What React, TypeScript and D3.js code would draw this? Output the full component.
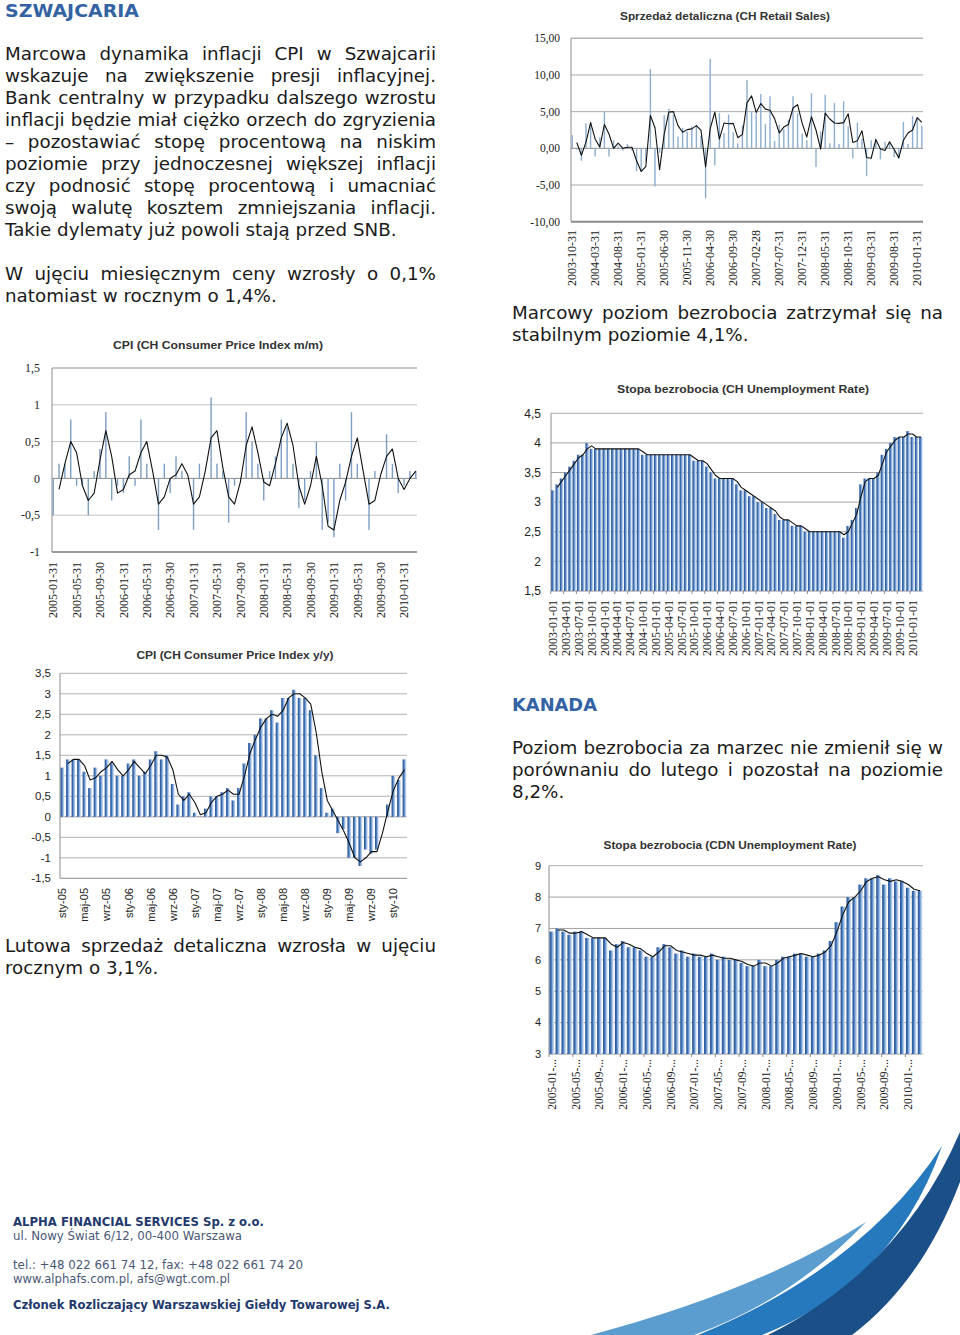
import React from 'react';
import * as d3 from 'd3';

// ---------------- DATA ----------------
// CPI m/m (CH), 2005-01 .. 2010-03
const mmValues = [
  -0.5, 0.2, 0.2, 0.8, -0.1, -0.1, -0.5, 0.1, 0.4, 0.9, -0.3, -0.1,
  -0.2, 0.3, -0.1, 0.8, 0.2, 0.0, -0.7, 0.2, -0.2, 0.3, 0.1, 0.0,
  -0.7, 0.2, 0.0, 1.1, 0.2, 0.1, -0.6, -0.1, 0.0, 0.9, 0.5, 0.2,
  -0.3, 0.1, 0.3, 0.8, 0.7, 0.2, -0.4, -0.3, 0.1, 0.5, -0.7, -0.6,
  -0.8, 0.2, -0.3, 0.9, 0.2, 0.0, -0.7, 0.1, 0.0, 0.6, 0.2, -0.2,
  -0.1, 0.1, 0.1,
];
const mmTickLabels = [
  '2005-01-31', '2005-05-31', '2005-09-30', '2006-01-31', '2006-05-31', '2006-09-30',
  '2007-01-31', '2007-05-31', '2007-09-30', '2008-01-31', '2008-05-31', '2008-09-30',
  '2009-01-31', '2009-05-31', '2009-09-30', '2010-01-31',
];
const mmYTicks = [1.5, 1, 0.5, 0, -0.5, -1];

// CPI y/y (CH), 2005-01 .. 2010-03
const yyValues = [
  1.2, 1.4, 1.4, 1.4, 1.1, 0.7, 1.2, 1.0, 1.4, 1.3, 1.0, 1.0,
  1.3, 1.4, 1.0, 1.1, 1.4, 1.6, 1.4, 1.5, 0.8, 0.3, 0.5, 0.6,
  0.1, 0.0, 0.2, 0.5, 0.5, 0.6, 0.7, 0.4, 0.7, 1.3, 1.8, 2.0,
  2.4, 2.4, 2.6, 2.3, 2.9, 2.9, 3.1, 2.9, 2.9, 2.6, 1.5, 0.7,
  0.1, 0.2, -0.4, -0.3, -1.0, -1.0, -1.2, -0.8, -0.9, -0.8, 0.0, 0.3,
  1.0, 0.9, 1.4,
];
const yyTickLabels = [
  'sty-05', 'maj-05', 'wrz-05', 'sty-06', 'maj-06', 'wrz-06', 'sty-07', 'maj-07',
  'wrz-07', 'sty-08', 'maj-08', 'wrz-08', 'sty-09', 'maj-09', 'wrz-09', 'sty-10',
];
const yyYTicks = [3.5, 3, 2.5, 2, 1.5, 1, 0.5, 0, -0.5, -1, -1.5];

// Retail sales (CH), 2003-10 .. 2010-02
const retailValues = [
  1.8, -0.2, -1.7, 3.4, 3.6, -1.1, 1.5, 5.0, -1.1, 1.1, 0.3, -0.3,
  0.6, -0.3, -3.1, -3.2, -1.8, 10.8, -5.2, -0.6, 4.5, 5.4, 4.6, 1.6,
  2.8, 2.3, 3.0, 3.2, 1.7, -6.8, 12.2, -2.3, 4.8, 2.1, 4.6, 2.2,
  0.7, 3.1, 9.3, 5.0, 4.8, 7.4, 3.3, 7.1, 1.0, 3.2, 2.6, 3.9,
  7.1, 4.8, 2.0, 1.1, 7.5, -2.5, 2.3, 7.3, 0.7, 6.2, 0.6, 6.4,
  3.0, -1.4, 3.5, 1.3, -3.8, 1.1, 1.3, -1.5, 0.9, 0.9, -1.2, -1.4,
  3.6, 0.6, 4.4, 4.0, 3.1,
];
const retailTickLabels = [
  '2003-10-31', '2004-03-31', '2004-08-31', '2005-01-31', '2005-06-30', '2005-11-30',
  '2006-04-30', '2006-09-30', '2007-02-28', '2007-07-31', '2007-12-31', '2008-05-31',
  '2008-10-31', '2009-03-31', '2009-08-31', '2010-01-31',
];
const retailYTicks = [15, 10, 5, 0, -5, -10];

// Unemployment rate (CH), 2003-01 .. 2010-03
const chUnempValues = [
  3.2, 3.3, 3.4, 3.5, 3.6, 3.7, 3.8, 3.8, 4.0, 3.9, 3.9, 3.9,
  3.9, 3.9, 3.9, 3.9, 3.9, 3.9, 3.9, 3.9, 3.9, 3.8, 3.8, 3.8,
  3.8, 3.8, 3.8, 3.8, 3.8, 3.8, 3.8, 3.8, 3.8, 3.7, 3.7, 3.7,
  3.6, 3.5, 3.4, 3.4, 3.4, 3.4, 3.4, 3.3, 3.2, 3.2, 3.1, 3.1,
  3.0, 3.0, 2.9, 2.9, 2.8, 2.7, 2.7, 2.7, 2.6, 2.6, 2.6, 2.5,
  2.5, 2.5, 2.5, 2.5, 2.5, 2.5, 2.5, 2.5, 2.4, 2.6, 2.7, 2.9,
  3.3, 3.4, 3.4, 3.4, 3.5, 3.8, 3.9, 4.0, 4.1, 4.1, 4.1, 4.2,
  4.1, 4.1, 4.1,
];
const chUnempTickLabels = [
  '2003-01-01', '2003-04-01', '2003-07-01', '2003-10-01', '2004-01-01', '2004-04-01',
  '2004-07-01', '2004-10-01', '2005-01-01', '2005-04-01', '2005-07-01', '2005-10-01',
  '2006-01-01', '2006-04-01', '2006-07-01', '2006-10-01', '2007-01-01', '2007-04-01',
  '2007-07-01', '2007-10-01', '2008-01-01', '2008-04-01', '2008-07-01', '2008-10-01',
  '2009-01-01', '2009-04-01', '2009-07-01', '2009-10-01', '2010-01-01',
];
const chUnempYTicks = [4.5, 4, 3.5, 3, 2.5, 2, 1.5];

// Unemployment rate (CDN), 2005-01 .. 2010-03
const cdnUnempValues = [
  6.9, 7.0, 6.9, 6.8, 6.9, 6.9, 6.7, 6.7, 6.7, 6.7, 6.3, 6.5,
  6.6, 6.4, 6.4, 6.3, 6.1, 6.1, 6.4, 6.5, 6.4, 6.2, 6.3, 6.1,
  6.2, 6.1, 6.1, 6.2, 6.0, 6.1, 6.0, 6.0, 5.9, 5.8, 5.8, 6.0,
  5.8, 5.8, 6.0, 6.1, 6.1, 6.2, 6.2, 6.1, 6.1, 6.2, 6.3, 6.6,
  7.2, 7.7, 8.0, 8.0, 8.4, 8.6, 8.6, 8.7, 8.4, 8.6, 8.5, 8.5,
  8.3, 8.2, 8.2,
];
const cdnUnempTickLabels = [
  '2005-01-...', '2005-05-...', '2005-09-...', '2006-01-...', '2006-05-...', '2006-09-...',
  '2007-01-...', '2007-05-...', '2007-09-...', '2008-01-...', '2008-05-...', '2008-09-...',
  '2009-01-...', '2009-05-...', '2009-09-...', '2010-01-...',
];
const cdnUnempYTicks = [9, 8, 7, 6, 5, 4, 3];

// Text content
const introLines = [
  'Marcowa dynamika inflacji CPI w Szwajcarii',
  'wskazuje na zwiększenie presji inflacyjnej.',
  'Bank centralny w przypadku dalszego wzrostu',
  'inflacji będzie miał ciężko orzech do zgryzienia',
  '– pozostawiać stopę procentową na niskim',
  'poziomie przy jednoczesnej większej inflacji',
  'czy podnosić stopę procentową i umacniać',
  'swoją walutę kosztem zmniejszania inflacji.',
  'Takie dylematy już powoli stają przed SNB.',
];
const cpiLines = ['W ujęciu miesięcznym ceny wzrosły o 0,1%', 'natomiast w rocznym o 1,4%.'];
const chUnempLines = ['Marcowy poziom bezrobocia zatrzymał się na', 'stabilnym poziomie 4,1%.'];
const cdnLines = [
  'Poziom bezrobocia za marzec nie zmienił się w',
  'porównaniu do lutego i pozostał na poziomie',
  '8,2%.',
];
const retailLines = ['Lutowa sprzedaż detaliczna wzrosła w ujęciu', 'rocznym o 3,1%.'];
const footerLines = [
  { text: 'ALPHA FINANCIAL SERVICES Sp. z o.o.', bold: true },
  { text: 'ul. Nowy Świat 6/12, 00-400 Warszawa', bold: false },
  { text: 'tel.: +48 022 661 74 12, fax: +48 022 661 74 20', bold: false },
  { text: 'www.alphafs.com.pl, afs@wgt.com.pl', bold: false },
  { text: 'Członek Rozliczający Warszawskiej Giełdy Towarowej S.A.', bold: true },
];

// ---------------- HELPERS ----------------
const plLocale = d3.formatLocale({
  decimal: ',', thousands: '\u00a0', grouping: [3], currency: ['', ''], minus: '-',
});
const fmtShort = plLocale.format('~g');
const fmtTwo = plLocale.format('.2f');

// Excel-style moving-average trendline (period 2) of a series
function movingAverage(vals: number[], period: number): (number | null)[] {
  return vals.map((_, i) => (i < period - 1 ? null : (d3.mean(vals.slice(i - period + 1, i + 1)) as number)));
}

let measureCtx: CanvasRenderingContext2D | null = null;
function textWidth(s: string, font: string): number {
  if (!measureCtx) measureCtx = document.createElement('canvas').getContext('2d');
  if (!measureCtx) return s.length * 9;
  measureCtx.font = font;
  return measureCtx.measureText(s).width;
}

const BODY_FAMILY = "'DejaVu Sans', Verdana, sans-serif";
const BODY_SIZE = 18.3;
const BODY_COLOR = '#1a1a1a';

function TextBlock({ lines, x, y0, width, lineH, justifyCount }: {
  lines: string[]; x: number; y0: number; width: number; lineH: number; justifyCount: number;
}) {
  const font = `${BODY_SIZE}px 'DejaVu Sans'`;
  return (
    <g fontFamily={BODY_FAMILY} fontSize={BODY_SIZE} fill={BODY_COLOR}>
      {lines.map((line, li) => {
        const y = y0 + li * lineH;
        if (li >= justifyCount) return <text key={li} x={x} y={y}>{line}</text>;
        const words = line.split(' ');
        const ws = words.map((w) => textWidth(w, font));
        const gap = (width - d3.sum(ws)) / Math.max(1, words.length - 1);
        let cx = x;
        const spans = words.map((w, i) => {
          const el = <tspan key={i} x={cx}>{w}</tspan>;
          cx += ws[i] + gap;
          return el;
        });
        return <text key={li} y={y}>{spans}</text>;
      })}
    </g>
  );
}

type ChartProps = {
  id: string;
  title: string; titleX: number; titleY: number; titleW: number;
  values: number[]; tickLabels: string[]; tickEvery: number;
  yTicks: number[]; yFormat: (v: number) => string;
  left: number; right: number; top: number; bottom: number;
  xMode: 'point' | 'band';
  barMode: 'thin' | 'gradient';
  barColor?: string; thinWidth?: number; padInner?: number; padOuter?: number;
  barBase: number;
  yLabelX: number; yLabelFamily: string; yLabelSize: number;
  xLabelTop: number; xLabelFamily: string; xLabelSize: number;
  gridColor: string; axisColor: string; topColor: string; bottomColor: string; bottomWidth: number; topWidth: number;
  bottomTicks?: boolean;
};

function Chart(p: ChartProps) {
  const n = p.values.length;
  const y = d3.scaleLinear()
    .domain([d3.min(p.yTicks) as number, d3.max(p.yTicks) as number])
    .range([p.bottom, p.top]);
  let xc: (i: number) => number;
  let bw: number;
  if (p.xMode === 'point') {
    const s = d3.scalePoint<number>().domain(d3.range(n)).range([p.left + 1.2, p.right - 1.2]);
    xc = (i) => s(i) as number;
    bw = p.thinWidth ?? 1.5;
  } else {
    const s = d3.scaleBand<number>().domain(d3.range(n)).range([p.left, p.right])
      .paddingInner(p.padInner ?? 0.2).paddingOuter(p.padOuter ?? 0.1);
    xc = (i) => (s(i) as number) + s.bandwidth() / 2;
    bw = s.bandwidth();
  }
  const trend = movingAverage(p.values, 2);
  const line = d3.line<number>()
    .defined((i) => trend[i] != null)
    .x((i) => xc(i))
    .y((i) => y(trend[i] as number));
  const minT = d3.min(p.yTicks) as number;
  const maxT = d3.max(p.yTicks) as number;
  const base = y(p.barBase);
  const gradId = `grad-${p.id}`;
  const tickIdx = p.tickLabels.map((_, k) => k * p.tickEvery);

  return (
    <g>
      <defs>
        <linearGradient id={gradId} x1="0" x2="1" y1="0" y2="0">
          <stop offset="0" stopColor="#26528f" />
          <stop offset="0.35" stopColor="#4072b6" />
          <stop offset="0.7" stopColor="#a3c1e6" />
          <stop offset="1" stopColor="#e2ecf8" />
        </linearGradient>
      </defs>
      <text x={p.titleX} y={p.titleY + 4} textAnchor="middle" fontFamily="'Liberation Sans', Arial, sans-serif"
        fontWeight="bold" fontSize={11.5} fill="#333" textLength={p.titleW} lengthAdjust="spacingAndGlyphs">{p.title}</text>
      {/* gridlines */}
      {p.yTicks.map((t) => {
        const isTop = t === maxT;
        const isBottom = t === minT;
        const isZero = t === 0 && !isBottom;
        const stroke = isBottom ? p.bottomColor : isTop ? p.topColor : isZero ? p.axisColor : p.gridColor;
        const sw = isBottom ? p.bottomWidth : isTop ? p.topWidth : 1;
        return <line key={t} x1={p.left} x2={p.right} y1={y(t)} y2={y(t)} stroke={stroke} strokeWidth={sw} />;
      })}
      {/* left axis */}
      <line x1={p.left} x2={p.left} y1={p.top} y2={p.bottom} stroke={p.axisColor} strokeWidth={1} />
      {p.bottomTicks && tickIdx.map((i) => (
        <line key={i} x1={xc(i) - bw / 2 - 0.5} x2={xc(i) - bw / 2 - 0.5} y1={p.bottom} y2={p.bottom + 3} stroke={p.axisColor} />
      ))}
      {/* bars */}
      {p.values.map((v, i) => {
        const yv = y(v);
        return (
          <rect key={i} x={xc(i) - bw / 2} y={Math.min(yv, base)} width={bw} height={Math.abs(yv - base)}
            fill={p.barMode === 'gradient' ? `url(#${gradId})` : p.barColor} />
        );
      })}
      {/* trend line */}
      <path d={line(d3.range(n)) || ''} fill="none" stroke="#111" strokeWidth={1.1} strokeLinejoin="round" />
      {/* y labels */}
      {p.yTicks.map((t) => (
        <text key={t} x={p.yLabelX} y={y(t)} dy="0.35em" textAnchor="end" fontFamily={p.yLabelFamily}
          fontSize={p.yLabelSize} fill="#222">{p.yFormat(t)}</text>
      ))}
      {/* x labels */}
      {p.tickLabels.map((lab, k) => (
        <text key={k} transform={`translate(${xc(tickIdx[k])},${p.xLabelTop}) rotate(-90)`} dy="0.35em"
          textAnchor="end" fontFamily={p.xLabelFamily} fontSize={p.xLabelSize} fill="#222">{lab}</text>
      ))}
    </g>
  );
}

const SERIF = "'Liberation Serif', 'DejaVu Serif', serif";
const SANS = "'Liberation Sans', Arial, sans-serif";

export default function App() {
  const headColor = '#3363a3';
  const footBold = '#1f3a6d';
  const footText = '#4a5877';
  return (
    <div style={{ position: 'absolute', left: 0, top: 0, width: 960, height: 1335, background: '#fff' }}>
      <svg width={960} height={1335} style={{ display: 'block' }}>
        <rect width={960} height={1335} fill="#fff" />
        {/* headings */}
        <text x={5} y={16.5} fontFamily={BODY_FAMILY} fontWeight="bold" fontSize={17.5} fill={headColor}
          textLength={134} lengthAdjust="spacingAndGlyphs">SZWAJCARIA</text>
        <text x={512} y={711} fontFamily={BODY_FAMILY} fontWeight="bold" fontSize={17.5} fill={headColor}
          textLength={85} lengthAdjust="spacingAndGlyphs">KANADA</text>

        <TextBlock lines={introLines} x={5} y0={60} width={431} lineH={22} justifyCount={8} />
        <TextBlock lines={cpiLines} x={5} y0={280} width={431} lineH={22} justifyCount={1} />
        <TextBlock lines={chUnempLines} x={512} y0={319} width={431} lineH={22} justifyCount={1} />
        <TextBlock lines={cdnLines} x={512} y0={754} width={431} lineH={22} justifyCount={2} />
        <TextBlock lines={retailLines} x={5} y0={952} width={431} lineH={22} justifyCount={1} />

        {/* Retail sales */}
        <Chart id="retail" title="Sprzedaż detaliczna (CH Retail  Sales)" titleX={725} titleY={16} titleW={210}
          values={retailValues} tickLabels={retailTickLabels} tickEvery={5}
          yTicks={retailYTicks} yFormat={fmtTwo}
          left={571} right={923} top={38.3} bottom={221.7}
          xMode="point" barMode="thin" barColor="#8eaecf" thinWidth={1.4} barBase={0}
          yLabelX={560} yLabelFamily={SERIF} yLabelSize={11.5}
          xLabelTop={230} xLabelFamily={SERIF} xLabelSize={12}
          gridColor="#a9a9a9" axisColor="#8c8c8c" topColor="#b5b5b5" bottomColor="#8c8c8c" bottomWidth={2} topWidth={1.5} />

        {/* CPI m/m */}
        <Chart id="mm" title="CPI (CH Consumer Price Index m/m)" titleX={218} titleY={345} titleW={210}
          values={mmValues} tickLabels={mmTickLabels} tickEvery={4}
          yTicks={mmYTicks} yFormat={fmtShort}
          left={52} right={417} top={368} bottom={552}
          xMode="point" barMode="thin" barColor="#7d9fc4" thinWidth={1.4} barBase={0}
          yLabelX={40} yLabelFamily={SERIF} yLabelSize={12}
          xLabelTop={562} xLabelFamily={SERIF} xLabelSize={12}
          gridColor="#c4c4c4" axisColor="#8c8c8c" topColor="#c8c8c8" bottomColor="#9a9a9a" bottomWidth={2} topWidth={2} />

        {/* CH unemployment */}
        <Chart id="chu" title="Stopa bezrobocia (CH Unemployment Rate)" titleX={743} titleY={389} titleW={252}
          values={chUnempValues} tickLabels={chUnempTickLabels} tickEvery={3}
          yTicks={chUnempYTicks} yFormat={fmtShort}
          left={551} right={923} top={413.3} bottom={591}
          xMode="band" barMode="gradient" padInner={0.15} padOuter={0.05} barBase={1.5}
          yLabelX={541} yLabelFamily={SANS} yLabelSize={12}
          xLabelTop={600} xLabelFamily={SERIF} xLabelSize={12}
          gridColor="#a3a3a3" axisColor="#8c8c8c" topColor="#b0b0b0" bottomColor="#8c8c8c" bottomWidth={1} topWidth={1}
          bottomTicks />

        {/* CPI y/y */}
        <Chart id="yy" title="CPI (CH Consumer Price Index y/y)" titleX={235} titleY={655} titleW={197}
          values={yyValues} tickLabels={yyTickLabels} tickEvery={4}
          yTicks={yyYTicks} yFormat={fmtShort}
          left={60} right={407} top={673.3} bottom={878.3}
          xMode="band" barMode="gradient" padInner={0.3} padOuter={0.1} barBase={0}
          yLabelX={51} yLabelFamily={SANS} yLabelSize={11.5}
          xLabelTop={888} xLabelFamily={SANS} xLabelSize={11}
          gridColor="#b3b3b3" axisColor="#8c8c8c" topColor="#b3b3b3" bottomColor="#8c8c8c" bottomWidth={1} topWidth={1} />

        {/* CDN unemployment */}
        <Chart id="cdn" title="Stopa bezrobocia (CDN Unemployment Rate)" titleX={730} titleY={845} titleW={253}
          values={cdnUnempValues} tickLabels={cdnUnempTickLabels} tickEvery={4}
          yTicks={cdnUnempYTicks} yFormat={fmtShort}
          left={549} right={923} top={865.7} bottom={1054}
          xMode="band" barMode="gradient" padInner={0.22} padOuter={0.1} barBase={3}
          yLabelX={541} yLabelFamily={SANS} yLabelSize={11}
          xLabelTop={1059} xLabelFamily={SERIF} xLabelSize={11.5}
          gridColor="#a3a3a3" axisColor="#8c8c8c" topColor="#b0b0b0" bottomColor="#8c8c8c" bottomWidth={1} topWidth={1}
          bottomTicks />

        {/* swoosh decoration */}
        <path d="M 591 1335 Q 760 1290 866 1222 Q 792 1300 694 1335 Z" fill="#5b9dcf" />
        <path d="M 698 1335 Q 862 1268 942 1146 Q 895 1282 762 1335 Z" fill="#2679bd" />
        <path d="M 768 1335 Q 902 1268 960 1132 L 960 1182 Q 922 1282 852 1335 Z" fill="#1b4f88" />

        {/* footer */}
        {footerLines.map((f, i) => {
          const ys = [1226, 1240, 1269, 1283, 1309];
          const ws = [251, 229, 290, 217, 377];
          return (
            <text key={i} x={13} y={ys[i]} fontFamily="'DejaVu Sans', sans-serif" fontSize={12}
              fontWeight={f.bold ? 'bold' : 'normal'} fill={f.bold ? footBold : footText}
              textLength={ws[i]} lengthAdjust="spacingAndGlyphs">{f.text}</text>
          );
        })}
      </svg>
    </div>
  );
}
